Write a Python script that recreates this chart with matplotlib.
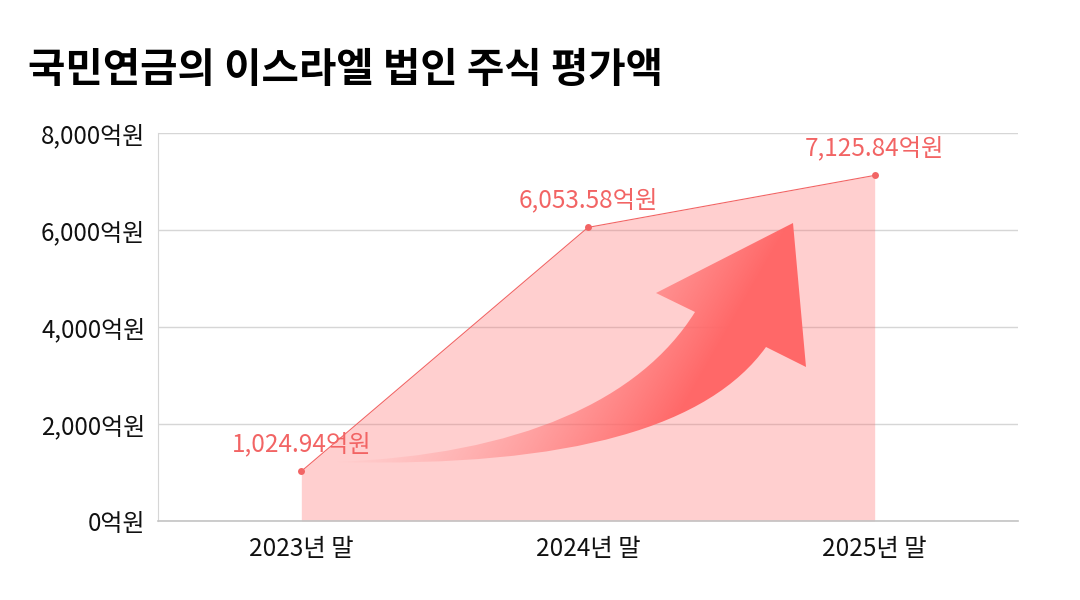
import matplotlib
matplotlib.use('Agg')
import matplotlib.pyplot as plt
import numpy as np
from matplotlib.path import Path
from matplotlib.patches import PathPatch

plt.rcParams['font.family'] = ['Noto Sans CJK KR', 'DejaVu Sans']

title = '국민연금의 이스라엘 법인 주식 평가액'
periods = ['2023년 말', '2024년 말', '2025년 말']
values = [1024.94, 6053.58, 7125.84]
yticks = [0, 2000, 4000, 6000, 8000]

red = '#f26464'

fig = plt.figure(figsize=(10.8, 6), dpi=100)
ax = fig.add_axes([158/1080, 1-521/600, 860/1080, 388/600])

x = np.arange(len(periods))
ax.fill_between(x, values, 0, color='#ff6b6b', alpha=0.32, lw=0, zorder=1)
ax.plot(x, values, color=red, lw=0.8, zorder=3)
ax.plot(x, values, 'o', color=red, ms=5, mec='none', zorder=4)
for xi, v in zip(x, values):
    ax.annotate(f'{v:,.2f}억원', (xi, v), xytext=(0, 27), textcoords='offset pixels',
                ha='center', va='center', fontsize=17.5, color=red, zorder=5)

ax.set_xlim(-0.5, 2.5)
ax.set_ylim(0, 8000)
ax.set_xticks(x)
ax.set_xticklabels(periods)
ax.set_yticks(yticks)
ax.set_yticklabels([f'{t:,}억원' for t in yticks])
ax.tick_params(axis='both', length=0, colors='#111111')
ax.tick_params(axis='y', pad=9, labelsize=17.3)
ax.tick_params(axis='x', pad=11, labelsize=17.5)
ax.grid(axis='y', color='#d6d6d6', lw=1)
ax.set_axisbelow(True)
for s in ['top', 'right']:
    ax.spines[s].set_visible(False)
ax.spines['left'].set_color('#d6d6d6')
ax.spines['bottom'].set_color('#c4c4c4')
ax.spines['bottom'].set_linewidth(1.2)

# decorative curved arrow (pixel positions of the reference -> axes fraction)
def fr(px, py):
    return ((px - 158) / 860, (521 - py) / 388)

pts = [(335, 462), (520, 455), (640, 400), (695, 312),
       (656, 293), (793, 223), (806, 367), (766, 347),
       (710, 425), (575, 468), (335, 462)]
codes = [Path.MOVETO, Path.CURVE4, Path.CURVE4, Path.CURVE4,
         Path.LINETO, Path.LINETO, Path.LINETO, Path.LINETO,
         Path.CURVE4, Path.CURVE4, Path.CURVE4]
arrow_path = Path([fr(*p) for p in pts], codes)
patch = PathPatch(arrow_path, facecolor='none', edgecolor='none', transform=ax.transAxes)
ax.add_patch(patch)

gx0, gx1, gy0, gy1 = 320, 820, 210, 480
nx, ny = 500, 270
gx, gy = np.meshgrid(np.linspace(gx0, gx1, nx), np.linspace(gy0, gy1, ny))
ax_, ay_ = 450, 480
bx_, by_ = 710, 330
dx, dy = bx_ - ax_, by_ - ay_
t = ((gx - ax_) * dx + (gy - ay_) * dy) / (dx * dx + dy * dy)
alpha = np.clip(t, 0, 1) ** 1.6
img = np.zeros((ny, nx, 4))
img[..., 0] = 1.0
img[..., 1] = 104 / 255
img[..., 2] = 104 / 255
img[..., 3] = alpha
l, b = fr(gx0, gy1)
r, tp = fr(gx1, gy0)
im = ax.imshow(img, extent=[l, r, tp, b], transform=ax.transAxes, origin='upper',
               interpolation='bilinear', zorder=2, aspect='auto')
im.set_clip_path(patch)
ax.set_xlim(-0.5, 2.5)
ax.set_ylim(0, 8000)

fig.text(28/1080, 1-70/600, title, fontsize=29.3, fontweight='heavy', ha='left', va='center', color='#000000')

fig.savefig('out.png', dpi=100)
